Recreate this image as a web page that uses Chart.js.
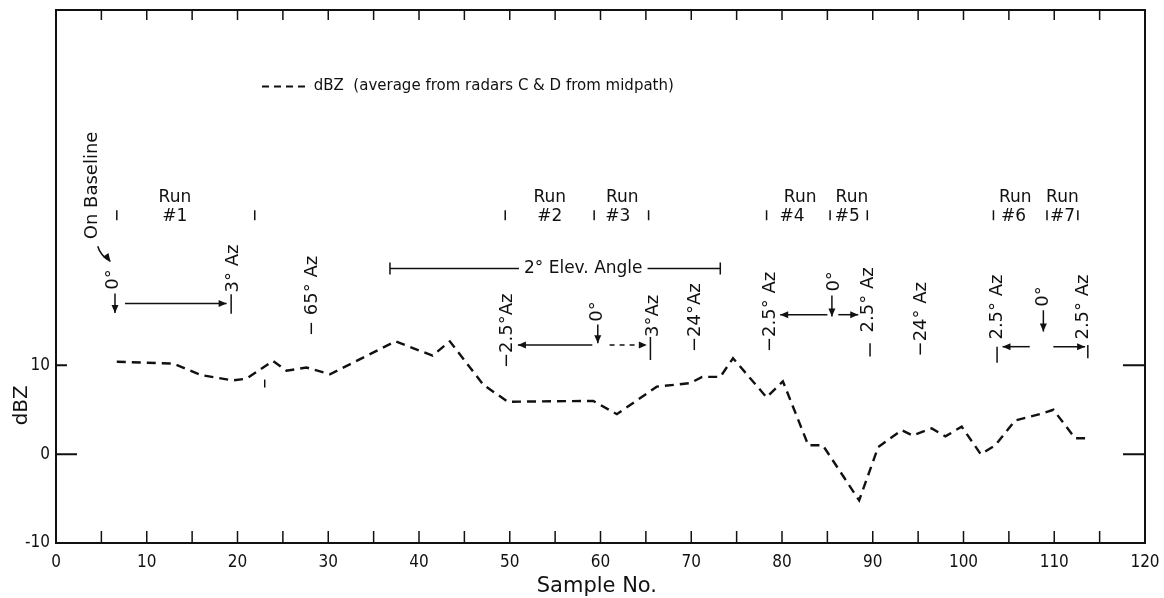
<!DOCTYPE html>
<html>
<head>
<meta charset="utf-8">
<script src="https://cdn.jsdelivr.net/npm/chart.js@4.4.1/dist/chart.umd.min.js"></script>
<style>
  html, body { margin: 0; padding: 0; background: #fff; }
</style>
</head>
<body>
<canvas id="dbzChart" width="1164" height="598"></canvas>
<script>
// trace: sample number and dBZ
var sampleNo = [6.7, 12.9, 16.0, 19.5, 21.0, 23.9, 25.4, 27.6, 30.2, 37.4, 41.5, 43.4, 47.1, 49.8,
                59.2, 61.8, 66.2, 69.9, 71.2, 73.2, 74.6, 78.3, 80.1, 82.9, 84.5, 88.5, 90.6,
                93.2, 94.4, 96.5, 98.0, 99.8, 101.9, 103.5, 105.7, 108.4, 109.9, 112.3, 113.7];
var dbz = [10.4, 10.2, 8.9, 8.3, 8.5, 10.5, 9.4, 9.75, 9.0, 12.7, 11.1, 12.7, 7.8, 5.9,
           6.0, 4.5, 7.6, 8.0, 8.7, 8.7, 10.8, 6.4, 8.2, 1.0, 1.0, -5.2, 0.8,
           2.7, 2.1, 2.9, 2.0, 3.1, 0.0, 1.0, 3.8, 4.5, 5.0, 1.8, 1.8];

var xTickLabels = [0, 10, 20, 30, 40, 50, 60, 70, 80, 90, 100, 110, 120];
var yTickLabels = [-10, 0, 10];
var xMinorTicks = [5, 10, 15, 20, 25, 30, 35, 40, 45, 50, 55, 60, 65, 70, 75, 80, 85, 90, 95, 100, 105, 110, 115];
var yMarkTicks = [0, 10];

var seriesLabel = 'dBZ  (average from radars C & D from midpath)';
var xTitle = 'Sample No.';
var yTitle = 'dBZ';

// run labels: name, x of "Run", x of "#n"
var runNames = ['#1', '#2', '#3', '#4', '#5', '#6', '#7'];
var runX = [13.1, 54.4, 62.4, 82.0, 87.7, 105.7, 110.9];
var runNumX = [13.1, 54.4, 61.9, 81.1, 87.2, 105.5, 110.9];
var runMarks = [6.7, 21.9, 49.5, 59.3, 65.3, 78.3, 85.3, 89.4, 103.3, 109.2, 112.6];

// rotated notes: text, x, y where the text starts (bottom)
var notes = [
  ['On Baseline', 4.0, 24.2],
  ['0°', 6.3, 18.5],
  ['3° Az', 19.5, 18.2],
  ['\u2212 65° Az', 28.2, 13.3],
  ['\u22122.5°Az', 49.7, 9.7],
  ['0°', 59.7, 14.9],
  ['3°Az', 65.8, 13.2],
  ['\u221224°Az', 70.4, 11.5],
  ['\u22122.5° Az', 78.7, 11.5],
  ['0°', 85.8, 18.3],
  ['2.5° Az', 89.5, 13.7],
  ['\u221224° Az', 95.4, 11.0],
  ['2.5° Az', 103.7, 12.9],
  ['0°', 108.8, 16.6],
  ['2.5° Az', 113.2, 12.9]
];
var downArrows = [[6.5, 18.1, 15.9], [59.7, 14.6, 12.5], [85.5, 17.85, 15.5], [108.8, 16.2, 13.8]];
// y, from x, to x, dashed
var sideArrows = [
  [16.95, 7.6, 18.8, false],
  [12.3, 59.1, 50.9, false],
  [12.3, 61.0, 65.1, true],
  [15.7, 85.0, 79.8, false],
  [15.7, 86.2, 88.4, false],
  [12.1, 107.3, 104.3, false],
  [12.1, 109.9, 113.4, false]
];
var bars = [[19.3, 18.0, 15.8], [65.5, 13.2, 10.6], [89.7, 12.5, 11.0], [103.7, 12.1, 10.3], [113.7, 12.3, 10.8], [23.0, 8.4, 7.5]];

var elevText = '2° Elev. Angle';
var elevFrom = 36.8, elevTo = 73.2, elevY = 20.9, elevMid = 58.1;

var ink = '#111';
var noteFont = "18px 'DejaVu Sans', sans-serif";
var tickFont = { family: "'Liberation Sans Narrow', 'DejaVu Sans Condensed', 'Liberation Sans', sans-serif", size: 17 };

function arrowHead(ctx, x, y, dx, dy) {
  var len = 8, w = 3.5;
  ctx.beginPath();
  ctx.moveTo(x, y);
  ctx.lineTo(x - dx * len - dy * w, y - dy * len + dx * w);
  ctx.lineTo(x - dx * len + dy * w, y - dy * len - dx * w);
  ctx.closePath();
  ctx.fill();
}

var notesPlugin = {
  id: 'notes',
  afterDatasetsDraw: function(chart) {
    var ctx = chart.ctx, a = chart.chartArea;
    var xs = chart.scales.x, ys = chart.scales.y;
    var X = function(v) { return xs.getPixelForValue(v); };
    var Y = function(v) { return ys.getPixelForValue(v); };
    ctx.save();
    ctx.strokeStyle = ink;
    ctx.fillStyle = ink;

    // frame and inward ticks
    ctx.lineWidth = 2;
    ctx.strokeRect(a.left, a.top, a.right - a.left, a.bottom - a.top);
    ctx.lineWidth = 1.5;
    ctx.beginPath();
    xMinorTicks.forEach(function(v) {
      ctx.moveTo(X(v), a.bottom); ctx.lineTo(X(v), a.bottom - 12);
      ctx.moveTo(X(v), a.top); ctx.lineTo(X(v), a.top + 10);
    });
    ctx.stroke();
    ctx.lineWidth = 2;
    ctx.beginPath();
    yMarkTicks.forEach(function(v) {
      ctx.moveTo(a.left, Y(v)); ctx.lineTo(a.left + (v === 0 ? 21 : 11), Y(v));
      ctx.moveTo(a.right, Y(v)); ctx.lineTo(a.right - 22, Y(v));
    });
    ctx.stroke();

    // legend
    ctx.lineWidth = 2;
    ctx.setLineDash([7, 5]);
    ctx.beginPath();
    ctx.moveTo(X(22.7), Y(41.4)); ctx.lineTo(X(28.0), Y(41.4));
    ctx.stroke();
    ctx.setLineDash([]);
    ctx.font = "15px 'DejaVu Sans', sans-serif";
    ctx.textAlign = 'left';
    ctx.textBaseline = 'middle';
    ctx.fillText(seriesLabel, X(28.4), Y(41.4));

    // runs
    ctx.font = "17px 'DejaVu Sans', sans-serif";
    ctx.textAlign = 'center';
    runNames.forEach(function(n, i) {
      ctx.fillText('Run', X(runX[i]), Y(28.9));
      ctx.fillText(n, X(runNumX[i]), Y(26.8));
    });
    ctx.lineWidth = 1.5;
    ctx.beginPath();
    runMarks.forEach(function(v) {
      ctx.moveTo(X(v), Y(26.9) - 5); ctx.lineTo(X(v), Y(26.9) + 5);
    });
    ctx.stroke();

    // elevation angle span
    ctx.beginPath();
    ctx.moveTo(X(elevFrom), Y(elevY)); ctx.lineTo(X(elevTo), Y(elevY));
    ctx.moveTo(X(elevFrom), Y(elevY) - 6); ctx.lineTo(X(elevFrom), Y(elevY) + 6);
    ctx.moveTo(X(elevTo), Y(elevY) - 6); ctx.lineTo(X(elevTo), Y(elevY) + 6);
    ctx.stroke();
    var tw = ctx.measureText(elevText).width;
    ctx.fillStyle = '#fff';
    ctx.fillRect(X(elevMid) - tw / 2 - 5, Y(elevY) - 10, tw + 10, 20);
    ctx.fillStyle = ink;
    ctx.fillText(elevText, X(elevMid), Y(elevY));

    // rotated notes
    ctx.font = noteFont;
    ctx.textAlign = 'left';
    notes.forEach(function(n) {
      ctx.save();
      ctx.translate(X(n[1]), Y(n[2]));
      ctx.rotate(-Math.PI / 2);
      ctx.fillText(n[0], 0, 0);
      ctx.restore();
    });

    // arrows and bars
    ctx.lineWidth = 1.5;
    downArrows.forEach(function(d) {
      ctx.beginPath();
      ctx.moveTo(X(d[0]), Y(d[1])); ctx.lineTo(X(d[0]), Y(d[2]));
      ctx.stroke();
      arrowHead(ctx, X(d[0]), Y(d[2]), 0, 1);
    });
    sideArrows.forEach(function(s) {
      var dir = s[2] > s[1] ? 1 : -1;
      if (s[3]) ctx.setLineDash([5, 5]);
      ctx.beginPath();
      ctx.moveTo(X(s[1]), Y(s[0])); ctx.lineTo(X(s[2]), Y(s[0]));
      ctx.stroke();
      ctx.setLineDash([]);
      arrowHead(ctx, X(s[2]), Y(s[0]), dir, 0);
    });
    bars.forEach(function(b) {
      ctx.beginPath();
      ctx.moveTo(X(b[0]), Y(b[1])); ctx.lineTo(X(b[0]), Y(b[2]));
      ctx.stroke();
    });
    // pointer from "On Baseline" to 0°
    ctx.beginPath();
    ctx.moveTo(X(4.6), Y(23.4));
    ctx.quadraticCurveTo(X(4.9), Y(22.3), X(6.0), Y(21.7));
    ctx.stroke();
    arrowHead(ctx, X(6.0), Y(21.7), 0.6, 0.8);

    // axis titles
    ctx.font = "21px 'DejaVu Sans', sans-serif";
    ctx.textAlign = 'center';
    ctx.fillText(xTitle, X(59.6), 587);
    ctx.save();
    ctx.translate(22, Y(5.5));
    ctx.rotate(-Math.PI / 2);
    ctx.font = "20px 'DejaVu Sans', sans-serif";
    ctx.fillText(yTitle, 0, 0);
    ctx.restore();

    ctx.restore();
  }
};

var ctx = document.getElementById('dbzChart').getContext('2d');

new Chart(ctx, {
  type: 'line',
  data: {
    datasets: [{
      label: seriesLabel,
      data: sampleNo.map(function(x, i) { return { x: x, y: dbz[i] }; }),
      borderColor: ink,
      borderWidth: 2.4,
      borderDash: [9, 6],
      pointRadius: 0,
      fill: false,
      tension: 0
    }]
  },
  options: {
    responsive: false,
    animation: false,
    devicePixelRatio: 1,
    layout: { padding: { top: 10, right: 19, left: 0, bottom: 0 } },
    plugins: {
      legend: { display: false },
      tooltip: { enabled: false }
    },
    scales: {
      x: {
        type: 'linear',
        min: 0,
        max: 120,
        afterBuildTicks: function(scale) {
          scale.ticks = xTickLabels.map(function(v) { return { value: v }; });
        },
        afterFit: function(scale) {
          scale.height = 55;
          scale.paddingLeft = 0;
          scale.paddingRight = 0;
        },
        grid: { display: false, drawTicks: false },
        border: { display: false },
        ticks: { color: ink, font: tickFont, padding: 9, maxRotation: 0, autoSkip: false }
      },
      y: {
        type: 'linear',
        min: -10,
        max: 50,
        afterBuildTicks: function(scale) {
          scale.ticks = yTickLabels.map(function(v) { return { value: v }; });
        },
        afterFit: function(scale) {
          scale.width = 56;
          scale.paddingTop = 0;
          scale.paddingBottom = 0;
        },
        grid: { display: false, drawTicks: false },
        border: { display: false },
        ticks: { color: ink, font: tickFont, padding: 6 }
      }
    }
  },
  plugins: [notesPlugin]
});
</script>
</body>
</html>
